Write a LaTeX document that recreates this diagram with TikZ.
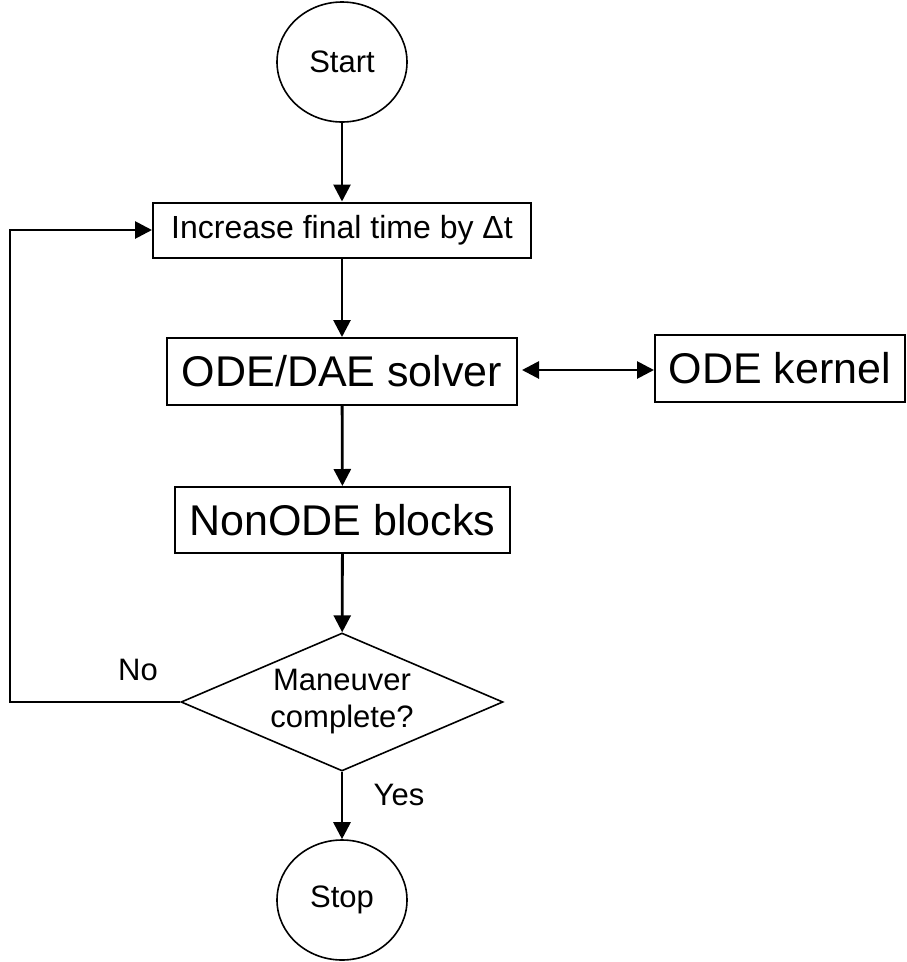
\documentclass[tikz,border=0pt]{standalone}
\usepackage{fontspec}
\setmainfont{Liberation Sans}
\usetikzlibrary{shapes.geometric,arrows.meta}
\begin{document}
\begin{tikzpicture}[x=1pt,y=-1pt,
  bigbox/.style={draw,line width=2pt,inner sep=0pt,font=\fontsize{43}{50}\selectfont},
  smallbox/.style={draw,line width=2pt,inner sep=0pt,font=\fontsize{32}{38}\selectfont},
  term/.style={draw,ellipse,line width=1.6pt,inner sep=0pt,minimum width=130pt,minimum height=120pt,font=\fontsize{31}{37}\selectfont},
  decision/.style={draw,diamond,line width=1.6pt,inner sep=0pt,shape aspect=2.33,minimum width=322pt,minimum height=138pt,align=center,font=\fontsize{31}{37}\selectfont},
  lbl/.style={font=\fontsize{31}{37}\selectfont,inner sep=0pt},
  conn/.style={line width=2.8pt,-{Triangle[length=17pt,width=17pt]}},
  dconn/.style={line width=2.8pt,{Triangle[length=17pt,width=17pt]}-{Triangle[length=17pt,width=17pt]}}
]
\useasboundingbox (0,0) rectangle (906,962);
\node[term] (start) at (342,62) {Start};
\node[smallbox,minimum width=378pt,minimum height=55pt] (inc) at (342,230) {Increase final time by Δt};
\node[bigbox,minimum width=350pt,minimum height=67pt] (solver) at (342,371.5) {ODE/DAE solver};
\node[bigbox,minimum width=250pt,minimum height=67pt] (kernel) at (780,368) {ODE kernel};
\node[bigbox,minimum width=335pt,minimum height=66pt] (nonode) at (342.5,520) {NonODE blocks};
\node[decision] (dec) at (342,702) {Maneuver\\complete?};
\node[term] (stop) at (342,900) {Stop};
\coordinate (lp) at (10,702);
\node[lbl] (no) at (138,670) {No};
\node[lbl] (yes) at (399,795) {Yes};

\draw[conn] (start) -- (inc);
\draw[conn] (inc) -- (solver);
\draw[dconn,shorten <=4pt] (solver.east |- 0,370) -- (kernel.west |- 0,370);
\draw[conn] (solver) -- (nonode);
\draw[conn] (nonode) -- (dec);
\draw[conn] (dec) -- (stop);
\draw[conn] (dec.west) -- (lp) |- (inc.west);
\end{tikzpicture}
\end{document}
